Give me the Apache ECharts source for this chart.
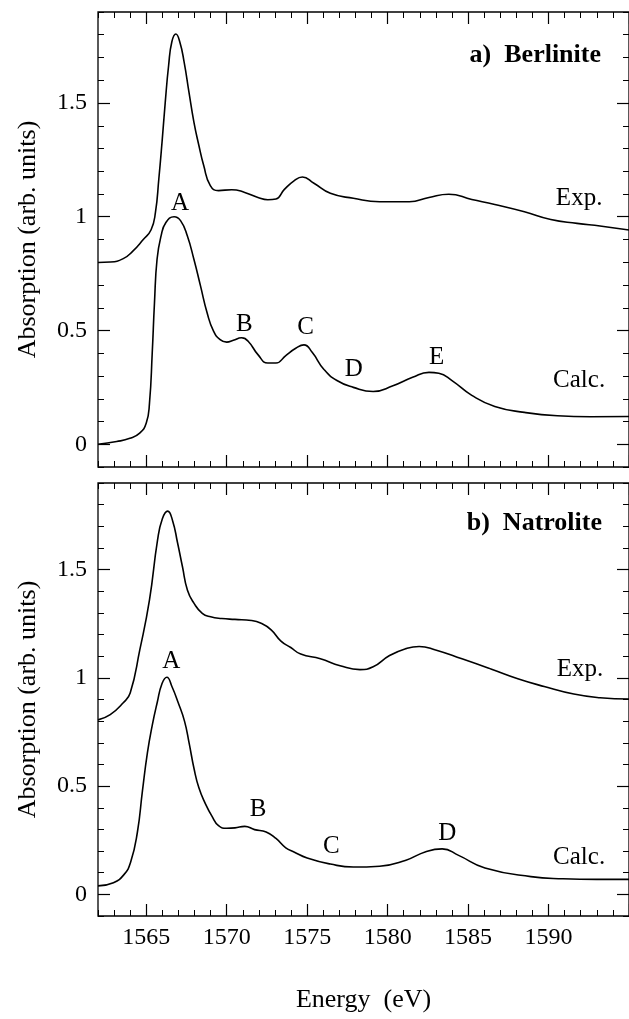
<!DOCTYPE html>
<html>
<head>
<meta charset="utf-8">
<title>Al K-edge XANES: Berlinite / Natrolite</title>
<script src="https://cdn.jsdelivr.net/npm/echarts@6/dist/echarts.min.js"></script>
<style>
  html, body { margin: 0; padding: 0; background: #fff; }
  #chart { width: 629px; height: 1019px; }
</style>
</head>
<body>
<div id="chart"></div>
<script>
// axis ranges and ticks
const X_MIN = 1562
const X_MAX = 1595
const Y_MIN = -0.1
const Y_MAX = 1.9
const xMajorTicks = [1565, 1570, 1575, 1580, 1585, 1590, 1595]
const xTickLabels = [1565, 1570, 1575, 1580, 1585, 1590]
const yMajorTicks = [0, 0.5, 1, 1.5]
const yTickLabels = [0, 0.5, 1, 1.5]

// a) Berlinite - experiment
const berlExpE = [1562.0, 1562.76, 1563.57, 1564.18, 1564.8, 1565.3, 1565.57, 1565.78, 1565.98, 1566.18,
  1566.39, 1566.59, 1566.84, 1567.08, 1567.35, 1567.65, 1567.96, 1568.27, 1568.57, 1568.98, 1569.49,
  1570.31, 1571.12, 1571.94, 1572.55, 1573.06, 1573.57, 1574.18, 1574.7, 1575.42, 1576.44, 1577.87,
  1579.5, 1581.35, 1582.57, 1583.8, 1585.23, 1586.66, 1588.5, 1590.14, 1591.77, 1593.2, 1595.0]
const berlExpY = [0.799, 0.801, 0.816, 0.85, 0.899, 0.943, 1.019, 1.166, 1.328, 1.504,
  1.666, 1.769, 1.803, 1.769, 1.681, 1.549, 1.416, 1.313, 1.225, 1.137, 1.115,
  1.119, 1.107, 1.085, 1.075, 1.078, 1.119, 1.158, 1.175, 1.147, 1.103, 1.081,
  1.066, 1.066, 1.085, 1.099, 1.076, 1.054, 1.022, 0.988, 0.971, 0.959, 0.942]

// a) Berlinite - calculation
const berlCalcE = [1562.0, 1563.16, 1563.98, 1564.59, 1565.0, 1565.2, 1565.37, 1565.51, 1565.67, 1565.92,
  1566.22, 1566.73, 1567.14, 1567.55, 1567.96, 1568.37, 1568.78, 1569.18, 1569.59, 1570.0, 1570.41,
  1570.92, 1571.33, 1571.94, 1572.55, 1573.06, 1573.67, 1574.29, 1574.8, 1575.31, 1576.03, 1576.85,
  1577.87, 1579.1, 1580.33, 1581.55, 1582.57, 1583.18, 1584.0, 1585.23, 1586.66, 1588.5, 1590.55,
  1592.6, 1595.0]
const berlCalcY = [0.0, 0.012, 0.026, 0.049, 0.093, 0.181, 0.401, 0.622, 0.813, 0.916,
  0.975, 1.0, 0.982, 0.916, 0.813, 0.696, 0.578, 0.497, 0.46, 0.449, 0.457,
  0.468, 0.453, 0.394, 0.357, 0.357, 0.39, 0.422, 0.437, 0.404, 0.33, 0.28,
  0.25, 0.232, 0.257, 0.294, 0.316, 0.312, 0.28, 0.215, 0.166, 0.14, 0.125,
  0.121, 0.122]

// b) Natrolite - experiment
const natrExpE = [1562.0, 1562.76, 1563.57, 1564.0, 1564.6, 1565.2, 1565.7, 1566.0, 1566.33, 1566.64,
  1566.94, 1567.25, 1567.56, 1567.97, 1568.48, 1569.0, 1569.69, 1570.51, 1571.53, 1572.14, 1572.76,
  1573.37, 1573.98, 1574.6, 1575.82, 1577.05, 1578.28, 1579.1, 1580.12, 1581.14, 1581.96, 1582.98,
  1584.62, 1586.46, 1588.09, 1589.73, 1591.57, 1593.2, 1595.0]
const natrExpY = [0.806, 0.83, 0.885, 0.93, 1.13, 1.36, 1.636, 1.735, 1.77, 1.725,
  1.625, 1.513, 1.405, 1.344, 1.298, 1.282, 1.274, 1.27, 1.265, 1.252, 1.222,
  1.17, 1.14, 1.11, 1.088, 1.056, 1.038, 1.051, 1.103, 1.135, 1.145, 1.129,
  1.088, 1.04, 0.996, 0.96, 0.925, 0.908, 0.902]

// b) Natrolite - calculation
const natrCalcE = [1562.0, 1562.96, 1563.6, 1564.03, 1564.45, 1564.76, 1565.07, 1565.38, 1565.68, 1565.98,
  1566.28, 1566.6, 1566.98, 1567.38, 1567.67, 1567.97, 1568.27, 1568.67, 1569.08, 1569.49, 1570.0,
  1570.51, 1571.12, 1571.73, 1572.45, 1573.06, 1573.67, 1574.18, 1575.0, 1576.44, 1577.87, 1579.5,
  1581.14, 1582.37, 1583.39, 1584.41, 1586.05, 1588.9, 1590.9, 1593.0, 1595.0]
const natrCalcY = [0.039, 0.054, 0.09, 0.149, 0.288, 0.477, 0.653, 0.784, 0.886, 0.974,
  1.003, 0.959, 0.886, 0.799, 0.696, 0.58, 0.492, 0.419, 0.361, 0.317, 0.305,
  0.307, 0.314, 0.299, 0.288, 0.258, 0.215, 0.196, 0.168, 0.14, 0.126, 0.13,
  0.158, 0.197, 0.21, 0.18, 0.122, 0.082, 0.072, 0.069, 0.069]

// peak letters and curve names: [energy, absorption, text]
const berlLabels = [
  [1567.1, 1.057, 'A'], [1571.1, 0.525, 'B'], [1574.9, 0.514, 'C'], [1577.9, 0.331, 'D'],
  [1583.05, 0.38, 'E'], [1591.9, 1.08, 'Exp.'], [1591.9, 0.279, 'Calc.']
]
const natrLabels = [
  [1566.55, 1.075, 'A'], [1571.95, 0.392, 'B'], [1576.5, 0.219, 'C'], [1583.7, 0.281, 'D'],
  [1591.95, 1.041, 'Exp.'], [1591.9, 0.17, 'Calc.']
]

const FONT = '"Liberation Serif", "DejaVu Serif", "Times New Roman", serif'
const INK = '#000'

const zip = (xs, ys) => xs.map((x, i) => [x, ys[i]])

// 4 x-axes per grid: bottom minor/major, top minor/major
const makeXAxes = (g, withLabels) => {
  const base = {
    gridIndex: g, type: 'value', min: X_MIN, max: X_MAX,
    axisLine: { show: false, onZero: false },
    splitLine: { show: false },
    axisLabel: { show: false }
  }
  const minor = pos => Object.assign({}, base, {
    position: pos, interval: 1,
    axisTick: { inside: true, length: 6, lineStyle: { color: INK, width: 1 } }
  })
  const major = pos => Object.assign({}, base, {
    position: pos,
    axisTick: { inside: true, length: 12, customValues: xMajorTicks, lineStyle: { color: INK, width: 1.2 } }
  })
  const bottomMajor = major('bottom')
  if (withLabels) {
    bottomMajor.axisLabel = {
      show: true, customValues: xTickLabels, margin: 10,
      formatter: v => String(v),
      color: INK, fontFamily: FONT, fontSize: 24
    }
    bottomMajor.name = 'Energy  (eV)'
    bottomMajor.nameLocation = 'middle'
    bottomMajor.nameGap = 71
    bottomMajor.nameTextStyle = { color: INK, fontFamily: FONT, fontSize: 26 }
  }
  return [minor('bottom'), bottomMajor, minor('top'), major('top')]
}

// 4 y-axes per grid: left minor/major, right minor/major
const makeYAxes = g => {
  const base = {
    gridIndex: g, type: 'value', min: Y_MIN, max: Y_MAX,
    axisLine: { show: false, onZero: false },
    splitLine: { show: false },
    axisLabel: { show: false }
  }
  const minor = pos => Object.assign({}, base, {
    position: pos, interval: 0.1,
    axisTick: { inside: true, length: 6, lineStyle: { color: INK, width: 1 } }
  })
  const major = pos => Object.assign({}, base, {
    position: pos,
    axisTick: { inside: true, length: 12, customValues: yMajorTicks, lineStyle: { color: INK, width: 1.2 } }
  })
  const leftMajor = major('left')
  leftMajor.axisLabel = {
    show: true, customValues: yTickLabels, margin: 11,
    formatter: v => String(v),
    color: INK, fontFamily: FONT, fontSize: 24
  }
  leftMajor.name = 'Absorption (arb. units)'
  leftMajor.nameLocation = 'middle'
  leftMajor.nameRotate = 90
  leftMajor.nameGap = 57
  leftMajor.nameTextStyle = { color: INK, fontFamily: FONT, fontSize: 26 }
  return [minor('left'), leftMajor, minor('right'), major('right')]
}

const curve = (data, axisIdx) => ({
  type: 'line', data, xAxisIndex: axisIdx, yAxisIndex: axisIdx,
  symbol: 'none', smooth: 0.5,
  lineStyle: { color: INK, width: 1.6 }, silent: true, z: 3
})

// text-only scatter (symbol hidden) for the peak letters
const labelSeries = (data, axisIdx) => ({
  type: 'scatter', data, xAxisIndex: axisIdx, yAxisIndex: axisIdx,
  symbolSize: 0, silent: true, z: 4,
  itemStyle: { opacity: 1 },
  label: {
    show: true, position: 'inside', formatter: p => p.value[2],
    color: INK, opacity: 1, textBorderWidth: 0, fontFamily: FONT, fontSize: 25
  }
})

const chart = echarts.init(document.getElementById('chart'), null, { renderer: 'canvas' })

const panelText = { color: INK, fontFamily: FONT, fontSize: 26, fontWeight: 'bold' }

chart.setOption({
  backgroundColor: '#fff',
  animation: false,
  title: [
    { text: 'a)  Berlinite', right: 23, top: 37, textStyle: panelText },
    { text: 'b)  Natrolite', right: 22, top: 505, textStyle: panelText }
  ],
  grid: [
    { left: 98, top: 12, height: 455, right: -7, show: true, borderColor: INK, borderWidth: 1.3 },
    { left: 98, top: 483, height: 433, right: -7, show: true, borderColor: INK, borderWidth: 1.3 }
  ],
  xAxis: [...makeXAxes(0, false), ...makeXAxes(1, true)],
  yAxis: [...makeYAxes(0), ...makeYAxes(1)],
  series: [
    curve(zip(berlExpE, berlExpY), 0),
    curve(zip(berlCalcE, berlCalcY), 0),
    labelSeries(berlLabels, 0),
    curve(zip(natrExpE, natrExpY), 4),
    curve(zip(natrCalcE, natrCalcY), 4),
    labelSeries(natrLabels, 4)
  ]
})
</script>
</body>
</html>
